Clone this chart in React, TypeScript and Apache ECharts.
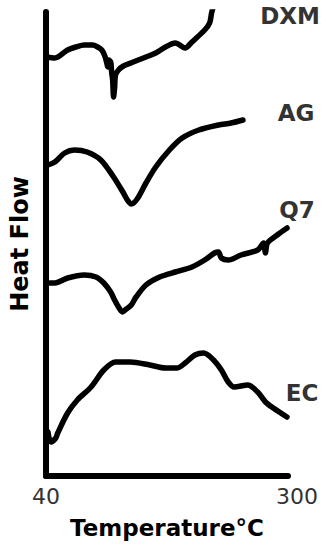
import React, { useEffect, useRef } from "react";
import * as echarts from "echarts";

// Temperature (°C) and relative heat flow (arbitrary units, stacked offsets)
const dxmT = [41.1, 49.5, 63.2, 72.0, 81.1, 90.0, 95.5, 100.0, 103.2, 105.3, 106.3, 107.4, 109.5, 110.5, 111.6, 112.6, 113.7, 114.7, 117.9, 123.2, 133.7, 147.4, 157.9, 168.4, 178.9, 189.5, 196.8, 210.5, 215.8, 217.9, 220.0];
const dxmH = [419, 418, 426, 429, 431, 431, 429, 426, 420, 413, 409, 416, 414, 404, 396, 379, 388, 401, 406, 410, 414, 419, 423, 429, 433, 428, 434, 446, 453, 463, 470];

const agT = [42.1, 49.5, 60.0, 70.5, 84.2, 98.9, 112.6, 123.2, 127.4, 131.6, 137.9, 147.4, 157.9, 172.6, 186.3, 204.2, 225.3, 238.9, 251.6];
const agH = [311, 314, 323, 326, 324, 316, 299, 283, 276, 272, 277, 293, 309, 326, 338, 346, 351, 353, 356];

const q7T = [42.1, 49.5, 63.2, 81.1, 93.7, 102.1, 109.5, 112.6, 117.9, 122.1, 126.3, 131.6, 136.8, 147.4, 162.1, 178.9, 196.8, 210.5, 221.1, 225.3, 228.4, 235.8, 249.5, 267.4, 273.7, 275.8, 277.9, 288.4, 299.0];
const q7H = [193, 193, 198, 201, 199, 193, 184, 178, 169, 164, 167, 171, 179, 191, 199, 204, 209, 216, 223, 224, 218, 216, 221, 226, 233, 223, 233, 241, 248];

const ecT = [42.1, 45.3, 50.5, 52.6, 63.2, 73.7, 88.4, 102.1, 114.7, 130.5, 151.6, 168.4, 181.1, 189.5, 200.0, 209.5, 220.0, 228.4, 235.8, 242.1, 256.8, 267.4, 275.8, 284.2, 298.9];
const ecH = [44, 34, 38, 43, 63, 76, 89, 106, 114, 114, 111, 108, 108, 113, 121, 123, 116, 106, 94, 89, 91, 84, 74, 68, 59];

const seriesNames = ["DXM", "AG", "Q7", "EC"];
const xTickLabels = ["40", "300"];

const zip = (t: number[], h: number[]) => t.map((v, i) => [v, h[i]]);

export default function App() {
  const ref = useRef<HTMLDivElement>(null);
  useEffect(() => {
    if (!ref.current) return;
    const chart = echarts.init(ref.current, undefined, { renderer: "svg" });
    const lineStyle = { color: "#000", width: 5.5, cap: "round", join: "round" };
    const mk = (name: string, data: number[][]) => ({
      name,
      type: "line",
      data,
      smooth: 0.3,
      symbol: "none",
      lineStyle,
      silent: true,
    });
    const labelStyle = {
      fontSize: 23,
      fontWeight: "bold",
      fill: "#333",
      fontFamily: "DejaVu Sans",
      align: "center",
      verticalAlign: "middle",
    };
    chart.setOption({
      animation: false,
      backgroundColor: "#fff",
      grid: { left: 41, right: 40, top: 12, bottom: 74 },
      xAxis: {
        type: "value",
        min: 40,
        max: 300,
        interval: 20,
        name: "Temperature°C",
        nameLocation: "middle",
        nameGap: 40,
        nameTextStyle: { fontSize: 23, fontWeight: "bold", color: "#000", fontFamily: "DejaVu Sans" },
        axisLine: { show: true, lineStyle: { color: "#000", width: 6 } },
        axisTick: { show: false },
        splitLine: { show: false },
        axisLabel: {
          margin: 9,
          fontSize: 22,
          color: "#333",
          fontFamily: "DejaVu Sans",
          formatter: (v: number) =>
            v === 40 ? `{l|${xTickLabels[0]}}` : v === 300 ? `{r|${xTickLabels[1]}}` : "",
          rich: {
            l: { fontSize: 22, color: "#333", fontFamily: "DejaVu Sans" },
            r: { fontSize: 22, color: "#333", fontFamily: "DejaVu Sans", padding: [0, 0, 0, 18] },
          },
        },
      },
      yAxis: {
        type: "value",
        min: 0,
        max: 464,
        name: "Heat Flow",
        nameLocation: "middle",
        nameRotate: 90,
        nameGap: 14,
        nameTextStyle: { fontSize: 24, fontWeight: "bold", color: "#000", fontFamily: "DejaVu Sans" },
        axisLine: { show: true, lineStyle: { color: "#000", width: 6 } },
        axisTick: { show: false },
        axisLabel: { show: false },
        splitLine: { show: false },
      },
      graphic: [
        { type: "text", x: 290, y: 16, style: { ...labelStyle, text: seriesNames[0] } },
        { type: "text", x: 296, y: 113, style: { ...labelStyle, text: seriesNames[1] } },
        { type: "text", x: 297, y: 210, style: { ...labelStyle, text: seriesNames[2] } },
        { type: "text", x: 302, y: 393, style: { ...labelStyle, text: seriesNames[3] } },
      ],
      series: [
        mk(seriesNames[0], zip(dxmT, dxmH)),
        mk(seriesNames[1], zip(agT, agH)),
        mk(seriesNames[2], zip(q7T, q7H)),
        mk(seriesNames[3], zip(ecT, ecH)),
      ],
    });
    return () => chart.dispose();
  }, []);
  return (
    <div
      ref={ref}
      style={{ position: "fixed", left: 0, top: 0, width: 328, height: 550, background: "#fff" }}
    />
  );
}
